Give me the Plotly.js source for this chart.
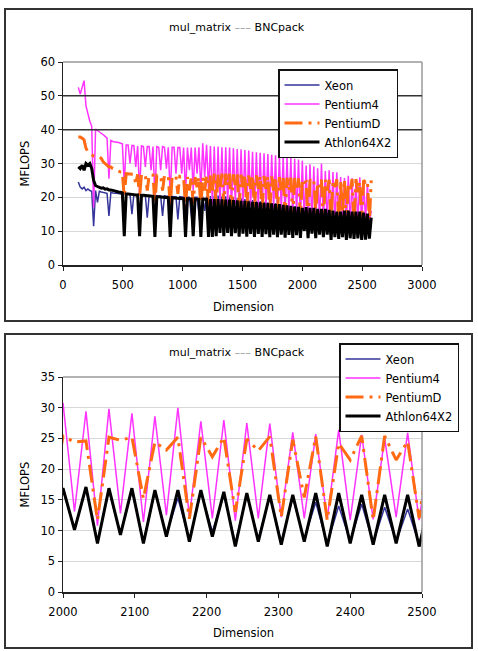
<!DOCTYPE html>
<html><head><meta charset="utf-8">
<script src="https://cdn.plot.ly/plotly-3.0.1.min.js"></script>
<style>html,body{margin:0;padding:0;background:#fff;}#chart{width:478px;height:651px;}</style>
</head><body><div id="chart"></div>
<script>
const dims = [
128,144,160,176,192,208,224,240,
256,272,288,304,320,336,352,368,
384,400,416,432,448,464,480,496,
512,528,544,560,576,592,608,624,
640,656,672,688,704,720,736,752,
768,784,800,816,832,848,864,880,
896,912,928,944,960,976,992,1008,
1024,1040,1056,1072,1088,1104,1120,1136,
1152,1168,1184,1200,1216,1232,1248,1264,
1280,1296,1312,1328,1344,1360,1376,1392,
1408,1424,1440,1456,1472,1488,1504,1520,
1536,1552,1568,1584,1600,1616,1632,1648,
1664,1680,1696,1712,1728,1744,1760,1776,
1792,1808,1824,1840,1856,1872,1888,1904,
1920,1936,1952,1968,1984,2000,2016,2032,
2048,2064,2080,2096,2112,2128,2144,2160,
2176,2192,2208,2224,2240,2256,2272,2288,
2304,2320,2336,2352,2368,2384,2400,2416,
2432,2448,2464,2480,2496,2512,2528,2544,
2560,2576];

const xeon = [
24.5,23,22.5,23,22,22.5,22,21.8,
11.5,22,18.5,21.8,21.6,21.5,21.4,21.2,
14.5,21.5,21.3,21.3,21.2,21.1,21,21,
10,21,20.9,20.9,15,20.8,20.8,20.7,
10,20.7,20.6,20.6,14,20.6,20.5,20.5,
10,20.5,20.4,20.4,14.5,20.4,20.3,20.3,
10,20.3,20.2,20.2,13.5,20.2,20.1,20.1,
10,20.1,20,15,10,20,20,15,
10,20.2,16,20.3,10,20.4,10,20.5,
9.5,20.5,10.5,20.3,9.5,20.3,10.5,20.2,
9.5,20,10.4,19.8,9.4,19.7,10.3,19.5,
9.3,19.3,10.2,19.2,9.2,19,10.1,18.8,
9.1,18.7,10,18.5,9,18.3,9.9,18.2,
9,18,9.8,17.8,8.9,17.6,9.7,17.4,
8.8,17.2,9.6,17,8.7,16.5,10.3,16.8,
8.2,16.5,9.5,16.5,8.2,16.3,9.3,15.3,
8.5,16.3,9.8,15.8,8,15.8,8.6,15.5,
8.2,15.3,8.6,14.6,7.8,14,8.3,14.3,
8,13.8,8.2,13.5,7.8,13.5,8,13.3,
8,13];

const pentium4 = [
52.5,50.5,52.5,54.5,47,44.5,42.5,41,
17,40.2,39.8,39.5,39,38.5,38,37.5,
25.5,36.8,36.5,36.5,36.3,36.2,36,35.8,
24,35.5,35.5,30,35.3,35.3,29,35.2,
21,35.2,35,29,35,35,28,35,
20,35,34.8,28,35,34.8,28.5,34.8,
20,34.8,34.8,27,34.7,34.7,27,34.7,
21,34.7,28,34.7,22,34.7,27,34.8,
22,36,26,35.5,22,35.2,18,35,
17,35,18,34.8,17,34.8,18,34.7,
16.5,34.5,18,34.3,16.5,34.2,17.5,34,
16,33.8,17.5,33.5,16,33.3,17,33.2,
15.5,33,17,32.8,15.5,32.6,16.5,32.4,
15,32.2,16,32,14.5,31.8,15.5,31.6,
14,31.4,15,31.2,13.5,30.8,13.1,29.4,
10.8,29.8,12.8,29.1,11.4,28.6,12.5,30,
12.2,27.8,12,28,11.6,27.5,12,27.4,
12.2,26,12,25.7,11.9,26.4,11.7,25.6,
11.8,25,12.2,25.9,11.7,24.5,13,24,
12.5,16];

const pentiumD = [
37.8,37.8,37.5,37,34.5,33.5,33,32.5,
32.2,32,32,32,31.5,30.5,30,29.5,
29,29,28.5,28.3,28,27.8,27.5,27.5,
20,27,27,27,27,26.8,24,26.8,
20,26.8,26.8,26.7,22,26.7,26.6,26.6,
18,26.5,26.5,26.5,22,26.5,26.3,26.3,
17,26.3,26.2,26.2,21,26.2,26.2,26,
17,26,22,26,18,26,23,26,
17,26,22,26.5,17,26.5,22,27,
17,27,23,27,17.5,27,23.5,27,
16.5,26.8,23,26.8,16.5,26.7,23,26.7,
16,26.5,22.5,26.5,16,26.5,22.5,26.3,
15.5,26.3,22.5,26.2,15.5,26.2,22,26,
15,26,22,26,14.5,25.8,22,25.8,
14,25.7,22,25.6,14,25.4,24.4,24.6,
11.7,25.2,24.7,25.2,15.2,24.4,23.1,25.2,
11.9,25.2,22,25.2,13,24.9,23,25.3,
12.2,24.8,15.4,25.3,11.7,24.2,21.5,25.4,
11.7,25.4,21.5,24.5,12,25,24.5,25,
13,25];

const athlon = [
29,28.5,29.5,28,30,29.5,30,28.5,
25,23.5,23.2,23,22.7,22.8,22.4,22.5,
22.2,22.2,22,21.8,21.8,21.6,21.5,21.3,
8.5,21,21,21,20.8,20.8,20.7,20.7,
8.5,20.6,20.6,20.5,20.5,20.4,20.4,20.3,
8.3,20.2,20.2,20.1,20,20,20,19.9,
8.3,19.9,19.8,19.8,19.7,19.7,19.7,19.6,
8.3,19.6,19.5,19.5,8.5,19.5,19.4,19.4,
8.3,19.4,19.4,19.4,8.3,19.5,8.3,19.5,
8.5,19.5,9.5,19.4,8.5,19.3,9.5,19.3,
8.5,19.2,9.4,19.1,8.4,19,9.3,19,
8.4,18.8,9.2,18.7,8.3,18.6,9.2,18.5,
8.3,18.4,9.1,18.3,8.2,18.2,9,18.1,
8.2,18,9,17.8,8.1,17.6,8.9,17.5,
8,17.3,8.8,17.2,8,16.9,10.1,17.1,
7.9,16.9,9.3,16.9,7.9,16.6,9,16.6,
8.2,16.6,9,16.3,7.4,16.1,8.2,15.8,
7.7,15.8,8.2,16.1,7.4,16.1,7.9,15.8,
7.7,15.8,7.9,15.8,7.4,15.5,7.5,15.2,
7.8,14];

const seriesNames = ['Xeon','Pentium4','PentiumD','Athlon64X2'];
const chartTitle = "mul_matrix <span style='color:#9a9a9a'>–––</span> BNCpack";
const xTitle = 'Dimension';
const yTitle = 'MFLOPS';

const W = 478, H = 651;
const px = v => v / W;
const py = v => 1 - v / H;

const styles = [
  {color:'#33339a', width:1.5},
  {color:'#ff33ff', width:1.5},
  {color:'#ff6a13', width:3, dash:'18px,6px,3px,6px'},
  {color:'#000000', width:3}
];
const series = [xeon, pentium4, pentiumD, athlon];

const traces = [];
[['x','y','legend'],['x2','y2','legend2']].forEach(([xa,ya,lg]) => {
  series.forEach((s,i) => traces.push({
    type:'scatter', mode:'lines', x:dims, y:s, xaxis:xa, yaxis:ya, legend:lg,
    name:seriesNames[i], line:Object.assign({}, styles[i]), hoverinfo:'skip'
  }));
});

const FF = 'DejaVu Sans, Arial, sans-serif';
const font = {family:FF, size:11.5, color:'#000'};
const axBase = {showline:true, linecolor:'#222', linewidth:1.5, ticks:'outside', ticklen:4,
  tickcolor:'#222', tickwidth:1, tickfont:font, zeroline:false, fixedrange:true};

const ann = (text, x, y, extra) => Object.assign({text:text, xref:'paper', yref:'paper', x:px(x), y:py(y),
  xanchor:'center', yanchor:'middle', showarrow:false, font:font}, extra || {});

const edge = (xr, yr, x0, x1, y0, y1, color, w) => ({type:'line', xref:xr, yref:yr, x0:x0, x1:x1, y0:y0, y1:y1,
  line:{color:color, width:w}, layer:'above'});

const layout = {
  width:W, height:H, margin:{l:0,r:0,t:0,b:0}, paper_bgcolor:'#fff', plot_bgcolor:'#fff',
  font:font, showlegend:true,
  xaxis:Object.assign({}, axBase, {domain:[px(63),px(422)], range:[0,3000], dtick:500, tick0:0, showgrid:false, anchor:'y', ticklabelstandoff:5}),
  yaxis:Object.assign({}, axBase, {domain:[py(265),py(62)], range:[0,60], dtick:10, showgrid:true, gridcolor:'#d8d8d8', anchor:'x'}),
  xaxis2:Object.assign({}, axBase, {domain:[px(63),px(422)], range:[2000,2500], dtick:100, tick0:2000, showgrid:false, anchor:'y2', ticklabelstandoff:5}),
  yaxis2:Object.assign({}, axBase, {domain:[py(592),py(377)], range:[0,35], dtick:5, showgrid:true, gridcolor:'#d8d8d8', anchor:'x2'}),
  legend:{x:px(278), y:py(69), xanchor:'left', yanchor:'top', bgcolor:'#fff', bordercolor:'#111', borderwidth:1.5,
    font:font, itemwidth:35, tracegroupgap:0},
  legend2:{x:px(339), y:py(343), xanchor:'left', yanchor:'top', bgcolor:'#fff', bordercolor:'#111', borderwidth:1.5,
    font:font, itemwidth:35, tracegroupgap:0},
  shapes:[
    {type:'rect', xref:'paper', yref:'paper', x0:px(5), x1:px(472), y0:py(321), y1:py(9), line:{color:'#333', width:2}},
    {type:'rect', xref:'paper', yref:'paper', x0:px(5), x1:px(472), y0:py(648), y1:py(334), line:{color:'#333', width:2}},
    edge('x domain', 'y domain', 0, 1, 1, 1, '#999', 1.5),
    edge('x domain', 'y domain', 1, 1, 0, 1, '#999', 1.5),
    edge('x2 domain', 'y2 domain', 0, 1, 1, 1, '#999', 1.5),
    edge('x2 domain', 'y2 domain', 1, 1, 0, 1, '#999', 1.5),
    edge('x domain', 'y', 0, 1, 40, 40, '#333', 1.5),
    edge('x domain', 'y', 0, 1, 50, 50, '#333', 1.5)
  ],
  annotations:[
    ann(chartTitle, 237, 27, {font:{family:FF, size:11, color:'#000'}}),
    ann(chartTitle, 237, 353, {font:{family:FF, size:11, color:'#000'}}),
    ann(xTitle, 243, 307),
    ann(xTitle, 243, 633),
    ann(yTitle, 25, 163.5, {textangle:-90}),
    ann(yTitle, 24, 484.5, {textangle:-90})
  ]
};

Plotly.newPlot('chart', traces, layout, {staticPlot:true, displayModeBar:false});
</script>
</body></html>
